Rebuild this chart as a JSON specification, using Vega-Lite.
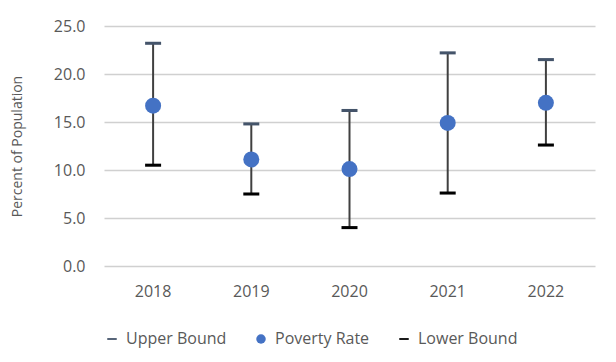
{
  "$schema": "https://vega.github.io/schema/vega-lite/v6.json",
  "width": 616,
  "height": 362,
  "autosize": {"type": "fit", "contains": "padding"},
  "padding": {"left": 10, "right": 21, "top": 18, "bottom": 15},
  "background": "white",
  "config": {
    "font": "Open Sans",
    "view": {"stroke": null},
    "axis": {"labelFont": "Open Sans", "titleFont": "Open Sans", "labelColor": "#595959", "titleColor": "#595959"},
    "legend": {"labelFont": "Open Sans", "labelColor": "#595959"}
  },
  "data": {
    "values": [
      {"year": "2018", "upper": 23.2, "rate": 16.7, "lower": 10.5},
      {"year": "2019", "upper": 14.8, "rate": 11.1, "lower": 7.5},
      {"year": "2020", "upper": 16.2, "rate": 10.1, "lower": 4.0},
      {"year": "2021", "upper": 22.2, "rate": 14.9, "lower": 7.6},
      {"year": "2022", "upper": 21.5, "rate": 17.0, "lower": 12.6}
    ]
  },
  "encoding": {
    "x": {
      "field": "year",
      "type": "nominal",
      "scale": {"paddingInner": 0, "paddingOuter": 0},
      "axis": {"title": null, "labelAngle": 0, "labelFontSize": 16, "ticks": false, "domain": false, "labelPadding": 17}
    }
  },
  "layer": [
    {
      "mark": {"type": "rule", "color": "#404040", "strokeWidth": 2},
      "encoding": {
        "y": {
          "field": "lower",
          "type": "quantitative",
          "scale": {"domain": [0, 25], "nice": false},
          "axis": {
            "title": "Percent of Population",
            "titleFontSize": 14,
            "titleFontWeight": "normal",
            "titlePadding": 29,
            "values": [0, 5, 10, 15, 20, 25],
            "format": ".1f",
            "labelFontSize": 16,
            "labelPadding": 19,
            "ticks": false,
            "domain": false,
            "gridColor": "#d0d0d0",
            "gridWidth": 1.5
          }
        },
        "y2": {"field": "upper"}
      }
    },
    {
      "transform": [{"fold": ["upper", "rate", "lower"], "as": ["series", "value"]}],
      "mark": {"type": "point", "filled": true, "opacity": 1, "size": 256},
      "encoding": {
        "y": {"field": "value", "type": "quantitative"},
        "color": {
          "field": "series",
          "type": "nominal",
          "scale": {"domain": ["upper", "rate", "lower"], "range": ["#44546a", "#4472c4", "#000000"]},
          "legend": {
            "title": null,
            "orient": "bottom",
            "direction": "horizontal",
            "labelFontSize": 16,
            "symbolSize": 90,
            "columnPadding": 26,
            "labelOffset": 6,
            "labelExpr": "datum.value == 'upper' ? 'Upper Bound' : datum.value == 'rate' ? 'Poverty Rate' : 'Lower Bound'",
            "offset": 32
          }
        },
        "shape": {
          "field": "series",
          "type": "nominal",
          "scale": {"domain": ["upper", "rate", "lower"], "range": ["M-1,-0.19H1V0.19H-1Z", "circle", "M-1,-0.19H1V0.19H-1Z"]},
          "legend": {
            "title": null,
            "orient": "bottom",
            "direction": "horizontal",
            "labelFontSize": 16,
            "symbolSize": 90,
            "columnPadding": 26,
            "labelOffset": 6,
            "labelExpr": "datum.value == 'upper' ? 'Upper Bound' : datum.value == 'rate' ? 'Poverty Rate' : 'Lower Bound'",
            "offset": 32
          }
        }
      }
    }
  ]
}
